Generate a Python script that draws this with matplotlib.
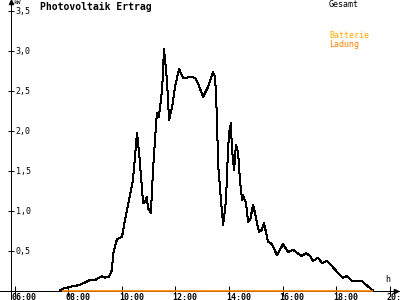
import matplotlib
matplotlib.use("Agg")
import matplotlib.pyplot as plt
import matplotlib.transforms as mtransforms

# Gesamt (kW) over the day
hours = [7.68, 7.76, 7.98, 8.43, 8.80, 8.99, 9.25, 9.36, 9.51, 9.63, 9.66, 9.81,
         10.00, 10.11, 10.26, 10.41, 10.56, 10.64, 10.79, 10.86, 10.93, 10.97,
         11.08, 11.16, 11.27, 11.31, 11.38, 11.50, 11.57, 11.68, 11.76, 11.87,
         11.98, 12.13, 12.28, 12.43, 12.54, 12.73, 12.84, 13.03, 13.21, 13.40,
         13.48, 13.55, 13.59, 13.70, 13.78, 13.89, 13.93, 14.00, 14.07, 14.11,
         14.19, 14.26, 14.34, 14.41, 14.49, 14.52, 14.64, 14.71, 14.79, 14.90,
         14.97, 15.12, 15.23, 15.31, 15.46, 15.61, 15.79, 16.02, 16.21, 16.39,
         16.54, 16.73, 16.88, 17.03, 17.14, 17.33, 17.48, 17.66, 17.89, 18.07,
         18.26, 18.41, 18.60, 18.97, 19.16, 19.38]
gesamt = [0.00, 0.02, 0.04, 0.07, 0.13, 0.13, 0.18, 0.16, 0.17, 0.26, 0.44, 0.64,
          0.67, 0.88, 1.13, 1.38, 1.97, 1.72, 1.09, 1.11, 1.17, 1.03,
          0.97, 1.51, 2.07, 2.22, 2.17, 2.51, 3.02, 2.63, 2.13, 2.29,
          2.54, 2.77, 2.66, 2.66, 2.67, 2.66, 2.59, 2.42, 2.54, 2.73,
          2.67, 2.17, 1.59, 1.13, 0.82, 1.13, 1.51, 1.97, 2.09, 1.76,
          1.51, 1.82, 1.72, 1.38, 1.13, 1.19, 1.09, 0.86, 0.88, 1.07,
          0.97, 0.73, 0.76, 0.84, 0.61, 0.58, 0.44, 0.58, 0.48, 0.51,
          0.47, 0.43, 0.47, 0.43, 0.37, 0.41, 0.34, 0.37, 0.29, 0.22,
          0.16, 0.18, 0.12, 0.12, 0.06, 0.00]

# Batterie Ladung stays at zero
bat_hours = [7.76, 19.38]
bat_ladung = [0.0, 0.0]

xticks = [6, 8, 10, 12, 14, 16, 18, 20]
xlabels = ["06:00", "08:00", "10:00", "12:00", "14:00", "16:00", "18:00", "20:00"]
yticks = [0.5, 1.0, 1.5, 2.0, 2.5, 3.0, 3.5]
ylabels = ["0,5", "1,0", "1,5", "2,0", "2,5", "3,0", "3,5"]

mono = "DejaVu Sans Mono"
orange = "#ff8000"
onepx = 0.72

fig = plt.figure(figsize=(4, 3), dpi=100)
ax = fig.add_axes([0, 0, 1, 1])

pxh = 26.75   # pixels per hour
pxk = 80.0    # pixels per kW
ax.set_xlim(6 - 15 / pxh, 6 + 385 / pxh)
ax.set_ylim(-9.5 / pxk, 290.5 / pxk)
yax_x = 6 - 4 / pxh

ax.spines["top"].set_visible(False)
ax.spines["bottom"].set_position(("data", 0))
ax.spines["left"].set_position(("data", yax_x))
ax.spines["right"].set_position(("data", yax_x))
ax.spines["right"].set_visible(False)
for s in ["bottom", "left"]:
    ax.spines[s].set_linewidth(onepx)
    ax.spines[s].set_antialiased(False)

ax.set_xticks(xticks)
ax.set_xticklabels(xlabels, ha="left", fontsize=6, family=mono, fontweight="bold")
ax.set_yticks(yticks)
ax.set_yticklabels(ylabels, fontsize=6, family=mono)
ax.tick_params(axis="x", direction="inout", length=7, width=onepx, pad=0.0)
ax.tick_params(axis="y", direction="inout", length=5, width=onepx, pad=1.0,
               left=True, right=False, labelleft=False, labelright=True)
offset = mtransforms.ScaledTranslation(-3 / 100, 2 / 100, fig.dpi_scale_trans)
for lab in ax.get_xticklabels():
    lab.set_transform(lab.get_transform() + offset)

# axis arrows
ax.plot([yax_x], [ax.get_ylim()[1] - 2 / pxk], marker="^", ms=3, color="black",
        clip_on=False)
ax.plot([6 + 381 / pxh], [0], marker=">", ms=3, color="black", clip_on=False)

ax.plot(hours, gesamt, color="black", lw=onepx, antialiased=False, zorder=3)
ax.plot(bat_hours, bat_ladung, color=orange, lw=1.2, solid_capstyle="butt",
        zorder=4)

fig.text(40 / 400, 1 - 10.5 / 300, "Photovoltaik Ertrag", fontsize=7,
         family=mono, fontweight="bold", va="baseline")
fig.text(13 / 400, 1 - 3 / 300, "kW", fontsize=4.5, family=mono, va="center")
fig.text(385 / 400, 1 - 280 / 300, "h", fontsize=6, family=mono, va="center")
fig.text(329 / 400, 1 - 4.5 / 300, "Gesamt", fontsize=6, family=mono,
         va="center", color="black")
fig.text(329 / 400, 1 - 36 / 300, "Batterie", fontsize=6, family=mono,
         va="center", color="#ffaa00")
fig.text(329 / 400, 1 - 44 / 300, "Ladung", fontsize=6, family=mono,
         va="center", color=orange)

fig.savefig("out.png", dpi=100)
